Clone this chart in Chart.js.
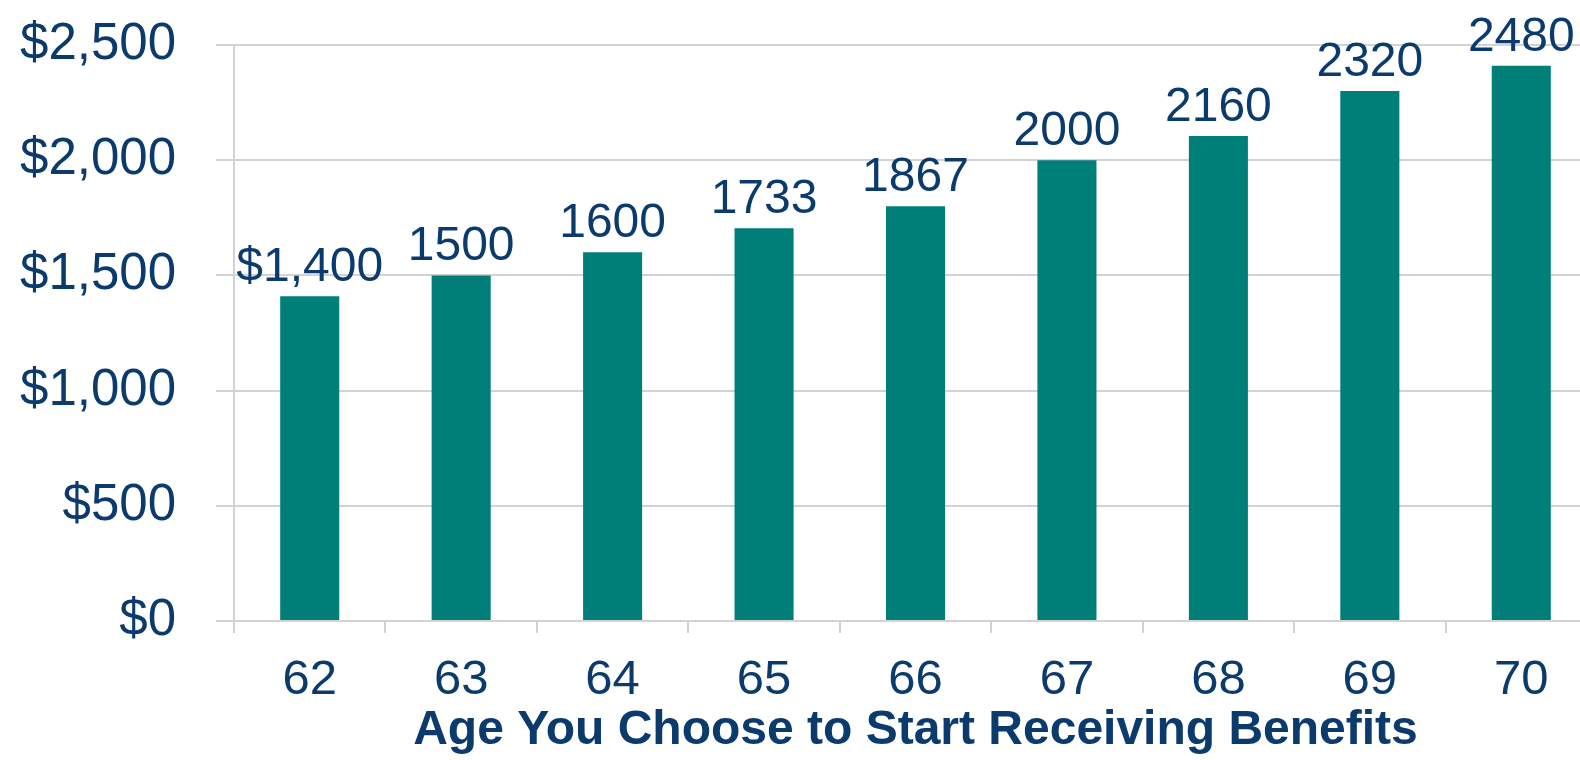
<!DOCTYPE html>
<html lang="en">
<head>
    <meta charset="UTF-8">
    <title>Benefits by Starting Age</title>
    <script src="https://cdn.jsdelivr.net/npm/chart.js"></script>
    <style>
        html, body {
            margin: 0;
            padding: 0;
            background: #fff;
            overflow: hidden;
        }
        #wrap {
            width: 1600px;
            height: 760px;
        }
    </style>
</head>
<body>
    <div id="wrap"><canvas id="myChart"></canvas></div>

    <script>
        // Datos del gráfico
        const ages = ['62', '63', '64', '65', '66', '67', '68', '69', '70'];
        const monthlyBenefit = [1410, 1500, 1600, 1705, 1800, 2000, 2105, 2300, 2410];
        const valueLabels = ['$1,400', '1500', '1600', '1733', '1867', '2000', '2160', '2320', '2480'];
        const yTicks = [0, 500, 1000, 1500, 2000, 2500];

        const navy = '#0b3a6d';
        const teal = '#007f79';
        const gridGray = '#d3d3d3';
        const fontFamily = '"Liberation Sans", Arial, sans-serif';

        // Etiquetas encima de cada barra
        const barLabels = {
            id: 'barLabels',
            afterDatasetsDraw(chart) {
                const ctx = chart.ctx;
                const meta = chart.getDatasetMeta(0);
                ctx.save();
                ctx.fillStyle = navy;
                ctx.font = '48px ' + fontFamily;
                ctx.textAlign = 'center';
                ctx.textBaseline = 'alphabetic';
                meta.data.forEach((bar, i) => {
                    ctx.fillText(valueLabels[i], bar.x, bar.y - 15);
                });
                ctx.restore();
            }
        };

        const ctx = document.getElementById('myChart').getContext('2d');
        new Chart(ctx, {
            type: 'bar',
            data: {
                labels: ages,
                datasets: [{
                    data: monthlyBenefit,
                    backgroundColor: teal,
                    borderWidth: 0,
                    barPercentage: 0.39,
                    categoryPercentage: 1
                }]
            },
            options: {
                responsive: true,
                maintainAspectRatio: false,
                animation: false,
                layout: {
                    padding: { top: 45, right: 3, bottom: 0, left: 0 }
                },
                plugins: {
                    legend: { display: false },
                    tooltip: { enabled: false }
                },
                scales: {
                    x: {
                        offset: true,
                        grid: {
                            offset: true,
                            drawOnChartArea: false,
                            drawTicks: true,
                            tickLength: 12,
                            lineWidth: 2,
                            color: gridGray
                        },
                        border: { display: false },
                        ticks: {
                            color: navy,
                            padding: 18,
                            font: { family: fontFamily, size: 49 }
                        },
                        title: {
                            display: true,
                            text: 'Age You Choose to Start Receiving Benefits',
                            color: navy,
                            padding: { top: 0, bottom: 0 },
                            font: { family: fontFamily, size: 48, weight: 'bold' }
                        },
                        afterFit(scale) {
                            scale.height = 139;
                            scale.paddingLeft = 0;
                            scale.paddingRight = 0;
                        }
                    },
                    y: {
                        min: 0,
                        max: 2500,
                        afterBuildTicks(scale) {
                            scale.ticks = yTicks.map(v => ({ value: v }));
                        },
                        grid: {
                            color: gridGray,
                            lineWidth: 2,
                            tickLength: 18
                        },
                        border: { display: true, color: gridGray, width: 2 },
                        ticks: {
                            color: navy,
                            padding: 40,
                            font: { family: fontFamily, size: 51 },
                            callback: (v) => '$' + v.toLocaleString('en-US')
                        },
                        afterFit(scale) {
                            scale.width = 234;
                            scale.paddingTop = 0;
                            scale.paddingBottom = 0;
                        }
                    }
                }
            },
            plugins: [barLabels]
        });
    </script>
</body>
</html>
